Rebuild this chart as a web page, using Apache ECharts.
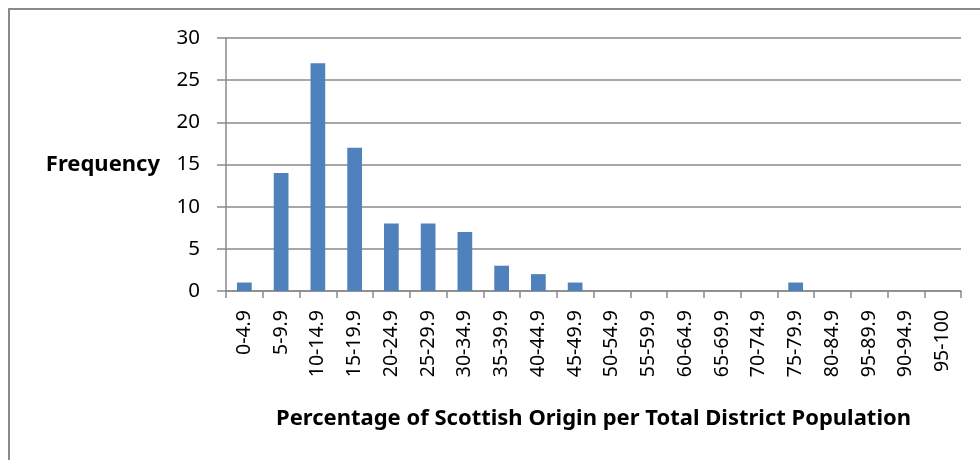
<!DOCTYPE html>
<html>
<head>
<meta charset="utf-8">
<script src="https://cdn.jsdelivr.net/npm/echarts@6/dist/echarts.min.js"></script>
<style>
html,body{margin:0;padding:0;background:#fff;}
#frame{position:absolute;left:8px;top:8px;width:972px;height:452px;border-top:2px solid #8a8a8a;border-left:2px solid #8a8a8a;box-sizing:border-box;}
#chart{position:absolute;left:0;top:0;width:980px;height:460px;}
</style>
</head>
<body>
<div id="frame"></div>
<div id="chart"></div>
<script>
var categories = ["0-4.9","5-9.9","10-14.9","15-19.9","20-24.9","25-29.9","30-34.9","35-39.9","40-44.9","45-49.9","50-54.9","55-59.9","60-64.9","65-69.9","70-74.9","75-79.9","80-84.9","95-89.9","90-94.9","95-100"];
var frequency = [1,14,27,17,8,8,7,3,2,1,0,0,0,0,0,1,0,0,0,0];
var yTicks = {min:0, max:30, interval:5};
var xTitle = "Percentage of Scottish Origin per Total District Population";
var yTitle = "Frequency";

var font = "Noto Sans, Liberation Sans, sans-serif";
var chart = echarts.init(document.getElementById('chart'), null, {renderer:'canvas'});
chart.setOption({
  animation:false,
  grid:{left:226, right:19, top:38, bottom:169, containLabel:false},
  xAxis:{
    type:'category',
    data:categories,
    name:xTitle,
    nameLocation:'middle',
    nameGap:117,
    nameTextStyle:{fontFamily:font, fontWeight:'bold', fontSize:22, color:'#000'},
    axisLine:{lineStyle:{color:'#8a8a8a', width:1.5}},
    axisTick:{show:true, alignWithLabel:false, length:7, lineStyle:{color:'#8a8a8a', width:1.5}},
    axisLabel:{rotate:90, interval:0, margin:19, fontFamily:font, fontSize:19.5, color:'#000'}
  },
  yAxis:{
    type:'value',
    min:yTicks.min, max:yTicks.max, interval:yTicks.interval,
    name:yTitle,
    nameLocation:'middle',
    nameRotate:0,
    nameGap:66,
    nameTextStyle:{fontFamily:font, fontWeight:'bold', fontSize:22, color:'#000', align:'right', verticalAlign:'middle'},
    axisLine:{show:true, lineStyle:{color:'#8a8a8a', width:1.5}},
    axisTick:{show:true, length:9, inside:false, lineStyle:{color:'#8a8a8a', width:1.5}},
    splitLine:{show:true, lineStyle:{color:'#8a8a8a', width:1.5}},
    axisLabel:{margin:26, fontFamily:font, fontSize:20.5, color:'#000'}
  },
  series:[{
    type:'bar',
    data:frequency,
    barWidth:'40%',
    itemStyle:{color:'#4F81BD', borderWidth:0}
  }]
});
</script>
</body>
</html>
